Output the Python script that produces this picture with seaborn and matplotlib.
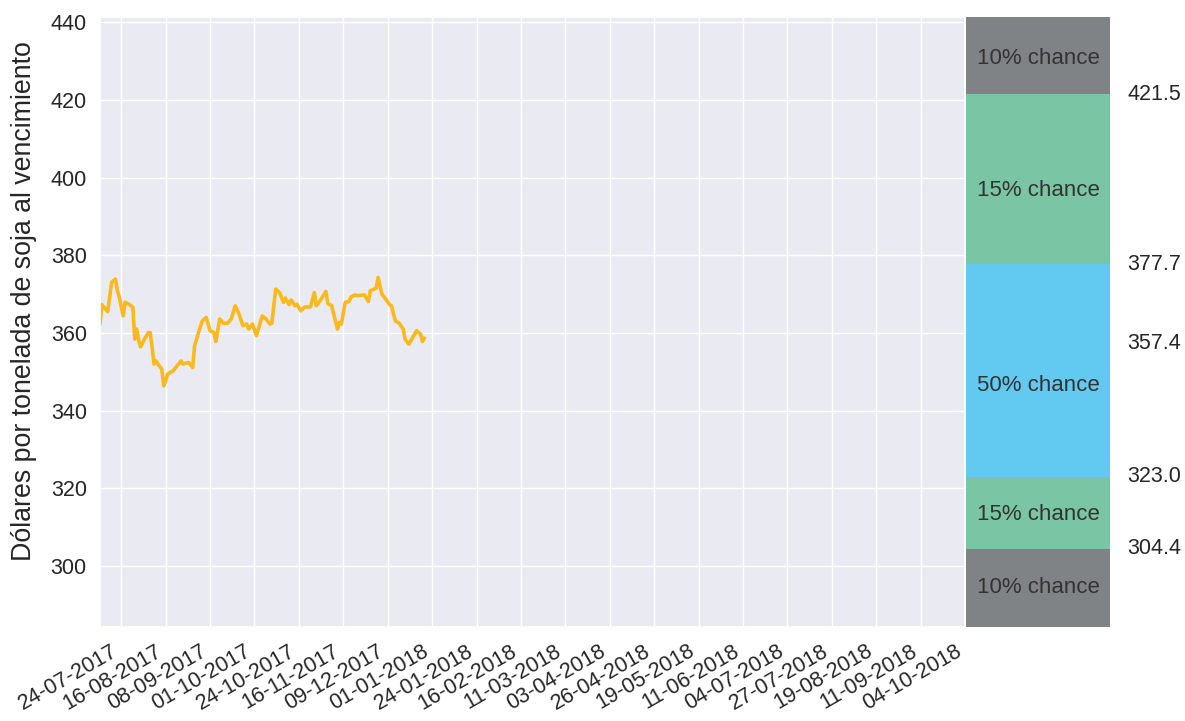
import matplotlib
matplotlib.use("Agg")
import matplotlib.pyplot as plt
import seaborn as sns
import pandas as pd
import numpy as np

# ---------------- data ----------------
dates = [
    "2017-07-13", "2017-07-14", "2017-07-15", "2017-07-17", "2017-07-19", "2017-07-21",
    "2017-07-22", "2017-07-23", "2017-07-25", "2017-07-26", "2017-07-28", "2017-07-30",
    "2017-07-31", "2017-08-01", "2017-08-02", "2017-08-03", "2017-08-05", "2017-08-07",
    "2017-08-08", "2017-08-09", "2017-08-10", "2017-08-11", "2017-08-12", "2017-08-14",
    "2017-08-15", "2017-08-16", "2017-08-17", "2017-08-20", "2017-08-22", "2017-08-24",
    "2017-08-25", "2017-08-28", "2017-08-30", "2017-08-31", "2017-09-02", "2017-09-04",
    "2017-09-06", "2017-09-08", "2017-09-10", "2017-09-11", "2017-09-13", "2017-09-15",
    "2017-09-17", "2017-09-19", "2017-09-21", "2017-09-23", "2017-09-25", "2017-09-27",
    "2017-09-28", "2017-09-30", "2017-10-02", "2017-10-05", "2017-10-07", "2017-10-09",
    "2017-10-10", "2017-10-12", "2017-10-14", "2017-10-16", "2017-10-17", "2017-10-19",
    "2017-10-20", "2017-10-22", "2017-10-23", "2017-10-25", "2017-10-27", "2017-10-30",
    "2017-11-01", "2017-11-02", "2017-11-04", "2017-11-07", "2017-11-08", "2017-11-10",
    "2017-11-11", "2017-11-13", "2017-11-14", "2017-11-15", "2017-11-17", "2017-11-19",
    "2017-11-20", "2017-11-22", "2017-11-23", "2017-11-27", "2017-11-29", "2017-11-30",
    "2017-12-03", "2017-12-04", "2017-12-06", "2017-12-08", "2017-12-10", "2017-12-11",
    "2017-12-12", "2017-12-13", "2017-12-15", "2017-12-17", "2017-12-18", "2017-12-20",
    "2017-12-22", "2017-12-24", "2017-12-26", "2017-12-27", "2017-12-28",
]
prices = [
    362.3, 367.3, 366.7, 365.5, 373.0, 373.9,
    370.9, 369.2, 364.4, 367.9, 367.4, 366.6,
    358.4, 361.0, 358.2, 356.4, 358.4, 360.1,
    360.1, 356.3, 352.0, 352.8, 352.0, 350.7,
    346.4, 347.7, 349.4, 350.3, 351.6, 352.8,
    352.0, 352.4, 351.1, 356.7, 360.1, 363.1,
    364.0, 360.6, 360.1, 357.8, 363.6, 362.5,
    362.5, 363.6, 367.0, 364.9, 361.9, 362.3,
    361.0, 362.3, 359.3, 364.4, 363.6, 362.3,
    362.5, 371.3, 370.4, 367.9, 369.0, 367.3,
    368.5, 367.0, 367.4, 365.7, 366.7, 366.7,
    370.4, 367.0, 368.3, 370.7, 367.6, 367.0,
    364.9, 361.0, 362.7, 362.3, 367.9, 368.1,
    369.3, 369.8, 369.6, 369.8, 368.1, 370.9,
    371.5, 374.3, 370.0, 368.7, 367.3, 367.0,
    364.9, 363.1, 362.5, 361.0, 358.4, 357.1,
    358.9, 360.6, 359.7, 357.8, 358.7,
]

tick_labels = [
    "24-07-2017", "16-08-2017", "08-09-2017", "01-10-2017", "24-10-2017",
    "16-11-2017", "09-12-2017", "01-01-2018", "24-01-2018", "16-02-2018",
    "11-03-2018", "03-04-2018", "26-04-2018", "19-05-2018", "11-06-2018",
    "04-07-2018", "27-07-2018", "19-08-2018", "11-09-2018", "04-10-2018",
]

# probability bands (price boundaries) and labels
band_edges = [284.2, 304.4, 323.0, 377.7, 421.5, 441.3]
band_labels = ["10% chance", "15% chance", "50% chance", "15% chance", "10% chance"]
band_colors = ["#7f8386", "#7ac5a3", "#62caf0", "#7ac5a3", "#7f8386"]
band_label_pos = [294.4, 313.2, 346.4, 396.6, 430.6]
side_values = [304.4, 323.0, 357.4, 377.7, 421.5]

ylabel = "Dólares por tonelada de soja al vencimiento"

# ---------------- style ----------------
sns.set_theme(style="darkgrid")
plt.rcParams["font.family"] = ["Liberation Sans", "DejaVu Sans"]
plt.rcParams["text.color"] = "#262626"

fig = plt.figure(figsize=(11.85, 7.21), dpi=100)
ax = fig.add_axes([100 / 1185, 1 - 627.3 / 721, (965 - 100) / 1185, (627.3 - 17.3) / 721])
axr = fig.add_axes([966 / 1185, 1 - 627.3 / 721, (1110 - 966) / 1185, (627.3 - 17.3) / 721])

df = pd.DataFrame({"date": pd.to_datetime(dates), "price": prices})
sns.lineplot(data=df, x="date", y="price", ax=ax, color="#fbb91e", linewidth=2.6)

tick_dates = pd.to_datetime(tick_labels, format="%d-%m-%Y")
ax.set_xticks(tick_dates)
ax.set_xticklabels(tick_labels, rotation=30, ha="right", fontsize=15.5, color="#262626")
ax.set_xlim(df["date"].iloc[0], tick_dates[-1])
ax.set_ylim(band_edges[0], band_edges[-1])
ax.set_yticks(np.arange(300, 441, 20))
ax.tick_params(axis="y", labelsize=15.5, labelcolor="#262626")
ax.set_xlabel("")
ax.set_ylabel(ylabel, fontsize=19.3, color="#262626")
ax.yaxis.set_label_coords(-0.073, 0.535)

# right panel with probability bands
lows = band_edges[:-1]
heights = np.diff(band_edges)
axr.bar([0] * len(lows), heights, bottom=lows, width=1.0, color=band_colors, linewidth=0)
axr.set_xlim(-0.5, 0.5)
axr.set_ylim(band_edges[0], band_edges[-1])
axr.axis("off")
for lab, yp in zip(band_labels, band_label_pos):
    axr.text(0, yp, lab, ha="center", va="center", fontsize=16, color="#333333")
for v in side_values:
    axr.text(0.62, v, f"{v:.1f}", ha="left", va="center", fontsize=15.5, color="#262626")

fig.savefig("out.png", dpi=100)
